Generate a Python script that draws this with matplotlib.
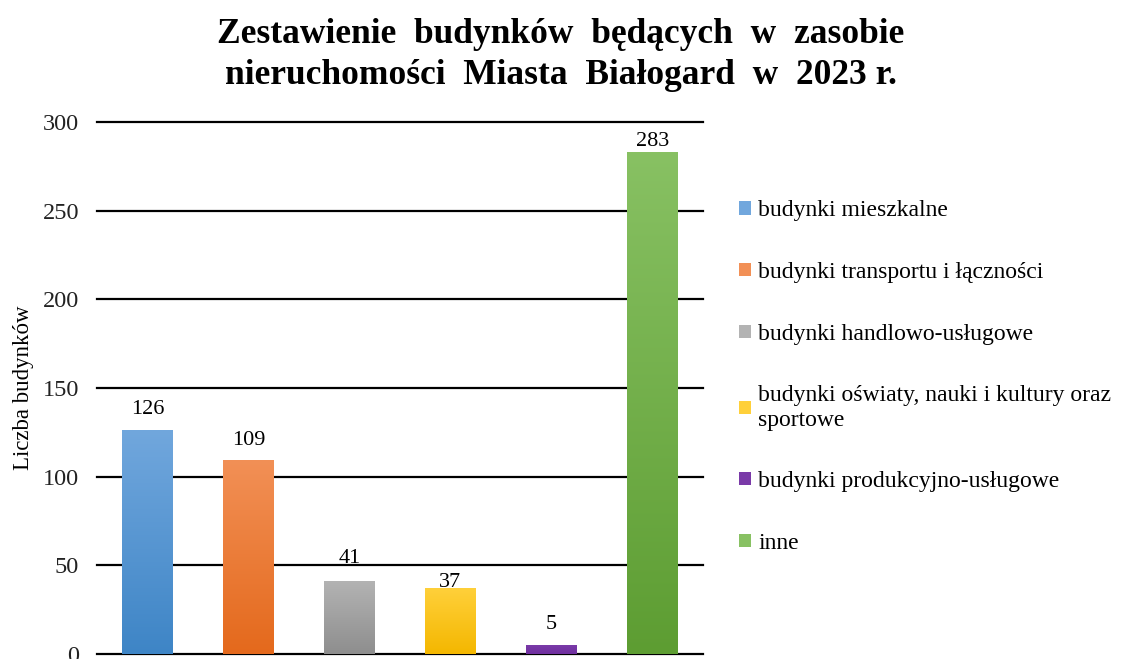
import numpy as np
import matplotlib.pyplot as plt
from matplotlib.colors import LinearSegmentedColormap
from matplotlib.patches import Patch

plt.rcParams['font.family'] = ['Liberation Serif', 'DejaVu Serif']

# Dane: liczba budynków wg rodzaju
kategorie = ['budynki mieszkalne',
             'budynki transportu i łączności',
             'budynki handlowo-usługowe',
             'budynki oświaty, nauki i kultury oraz\nsportowe',
             'budynki produkcyjno-usługowe',
             'inne']
wartosci = [126, 109, 41, 37, 5, 283]

# kolory: (dół słupka, góra słupka)
kolory = [('#3e85c6', '#71a7dd'),
          ('#e4691c', '#f29056'),
          ('#8e8e8e', '#b3b3b3'),
          ('#f4b700', '#ffd03a'),
          ('#6f2f9f', '#7a3aa8'),
          ('#5d9d32', '#88c163')]

# odstęp etykiety nad słupkiem (pt); dwie etykiety przesunięte ręcznie
odstep = [12.2, 11.5, 13, 0.7, 11.5, 4.3]

fig = plt.figure(figsize=(11.22, 6.59), dpi=100)
ax = fig.add_axes([0.0865, 0.0076, 0.540, 0.807])

x = np.arange(len(wartosci))
szer = 0.5
gradient = np.linspace(0, 1, 256).reshape(-1, 1)

for xi, h, (c_dol, c_gora), dy in zip(x, wartosci, kolory, odstep):
    cmap = LinearSegmentedColormap.from_list('g', [c_dol, c_gora])
    ax.imshow(gradient, cmap=cmap, origin='lower', aspect='auto',
              extent=[xi - szer / 2, xi + szer / 2, 0, h], zorder=2)
    ax.annotate(str(h), (xi, h), xytext=(0, dy), textcoords='offset points',
                ha='center', va='baseline', fontsize=16, zorder=3)

ax.set_xlim(-0.5, len(wartosci) - 0.5)
ax.set_ylim(0, 300)
ax.set_yticks(range(0, 301, 50))
ax.set_xticks([])
ax.yaxis.grid(True, color='black', linewidth=1.6)
for gl in ax.get_ygridlines():
    gl.set_clip_on(False)
ax.set_axisbelow(True)
for s in ax.spines.values():
    s.set_visible(False)
ax.tick_params(axis='y', length=0, pad=13, labelsize=17.5, labelcolor='#222222')
ax.set_ylabel('Liczba budynków', fontsize=16.5, labelpad=6)

fig.suptitle('Zestawienie  budynków  będących  w  zasobie\nnieruchomości  Miasta  Białogard  w  2023 r.',
             fontsize=25.5, fontweight='bold', y=0.972, x=0.5, linespacing=1.3)

uchwyty = [Patch(facecolor=c[1], edgecolor='none') for c in kolory]
leg = fig.legend(uchwyty, kategorie, loc='upper left',
                 bbox_to_anchor=(0.64, 0.728), frameon=False, fontsize=17,
                 handlelength=0.5, handleheight=0.5, handletextpad=0.3,
                 labelspacing=1.72)
for t in leg.get_texts():
    t.set_linespacing(1.2)

fig.savefig('out.png', dpi=100)
